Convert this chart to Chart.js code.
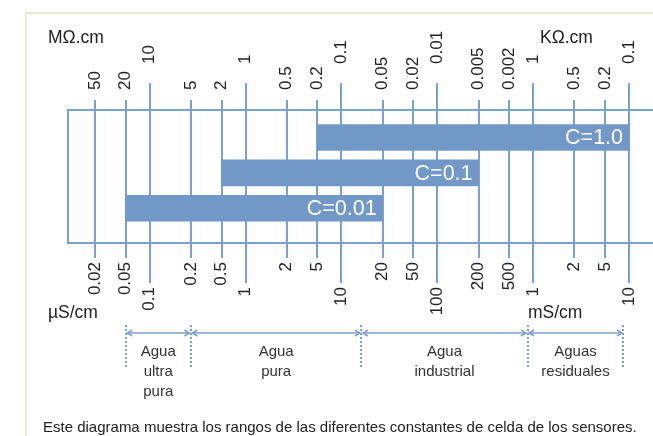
<!DOCTYPE html>
<html>
<head>
<meta charset="utf-8">
<script src="https://cdn.jsdelivr.net/npm/chart.js@4/dist/chart.umd.min.js"></script>
<style>
  html, body { margin:0; padding:0; background:#fff; width:653px; height:436px; overflow:hidden; }
  #wrap { position:relative; width:653px; height:436px; overflow:hidden; font-family:'Liberation Sans', Arial, sans-serif; color:#222; }
  #frame { position:absolute; left:25px; top:12px; width:700px; height:500px; border-top:2px solid #ebe8d5; border-left:2px solid #ebe8d5; }
  #c { position:absolute; left:0; top:0; }
  .unit { position:absolute; font-size:17.5px; line-height:20px; white-space:nowrap; }
  #caption { position:absolute; left:43px; top:418px; font-size:15px; line-height:18px; white-space:nowrap; }
</style>
</head>
<body>
<div id="wrap">
  <div id="frame"></div>
  <canvas id="c" width="700" height="436"></canvas>
  <div class="unit" style="left:48px; top:27px;">MΩ.cm</div>
  <div class="unit" style="left:540px; top:27px;">KΩ.cm</div>
  <div class="unit" style="left:48px; top:302px;">µS/cm</div>
  <div class="unit" style="left:528px; top:302px;">mS/cm</div>
  <div id="caption">Este diagrama muestra los rangos de las diferentes constantes de celda de los sensores.</div>
</div>
<script>
// ---- data ----
const conductivityMinor = [0.02, 0.05, 0.2, 0.5, 2, 5, 20, 50, 200, 500, 2000, 5000];
const conductivityMinorLabels = ['0.02','0.05','0.2','0.5','2','5','20','50','200','500','2','5'];
const conductivityMajor = [0.1, 1, 10, 100, 1000, 10000];
const conductivityMajorLabels = ['0.1','1','10','100','1','10'];
const resistivityMinorLabels = ['50','20','5','2','0.5','0.2','0.05','0.02','0.005','0.002','0.5','0.2'];
const resistivityMajorLabels = ['10','1','0.1','0.01','1','0.1'];
const cellConstants = ['C=1.0', 'C=0.1', 'C=0.01'];
const rangeLow = [5, 0.5, 0.05];
const rangeHigh = [10000, 200, 20];
const regionBounds = [0.05, 0.2, 14, 850, 8500];
const regionNames = [['Agua','ultra','pura'], ['Agua','pura'], ['Agua','industrial'], ['Aguas','residuales']];

// ---- styles ----
const BLUE = '#7ba1ce';
const BAR = '#7198c6';
const TXT = '#222222';
const FONT = "'Liberation Sans', Arial, sans-serif";
const TICK_SIZE = 17;

// decade scale with 1-2-5 anchors placed as in the printed diagram
const SPLIT = [[1, 0], [2, 0.43], [5, 0.75], [10, 1]];
function dpos(v) {
  const e = Math.floor(Math.log10(v) + 1e-9);
  const m = v / Math.pow(10, e);
  for (let i = 0; i < 3; i++) {
    const [a, fa] = SPLIT[i], [b, fb] = SPLIT[i + 1];
    if (m < b + 1e-9 || i === 2) return e + fa + (fb - fa) * Math.log(m / a) / Math.log(b / a);
  }
}
function dinv(p) {
  const e = Math.floor(p), f = p - e;
  for (let i = 0; i < 3; i++) {
    const [a, fa] = SPLIT[i], [b, fb] = SPLIT[i + 1];
    if (f <= fb || i === 2) return a * Math.pow(b / a, (f - fa) / (fb - fa)) * Math.pow(10, e);
  }
}
class SegLogScale extends Chart.LogarithmicScale {
  getPixelForValue(value) {
    if (value === undefined || value === null || value <= 0) value = this.min;
    const a = dpos(this.min), b = dpos(this.max);
    return this.getPixelForDecimal((dpos(value) - a) / (b - a));
  }
  getValueForPixel(pixel) {
    const a = dpos(this.min), b = dpos(this.max);
    return dinv(a + this.getDecimalForPixel(pixel) * (b - a));
  }
  _computeLabelArea() { return undefined; }
}
SegLogScale.id = 'seglog';
SegLogScale.defaults = Chart.LogarithmicScale.defaults;
Chart.register(SegLogScale);

function xAxis(position, values, labels, tickLen, pad, onArea) {
  return {
    type: 'seglog', axis: 'x', position,
    min: 0.0127, max: 48600,
    afterBuildTicks: s => { s.ticks = values.map(v => ({ value: v })); },
    afterFit: s => { s.height = 0; },
    grid: { display: true, drawOnChartArea: onArea, drawTicks: true, tickLength: tickLen,
            color: BLUE, lineWidth: 2, tickWidth: 2, tickColor: BLUE },
    border: { display: true, color: BLUE, width: 2 },
    ticks: { autoSkip: false, minRotation: 90, maxRotation: 90, padding: pad, color: TXT,
             labelOffset: position === 'top' ? TICK_SIZE * 1.2 : 0,
             font: { family: FONT, size: TICK_SIZE }, callback: (v, i) => labels[i] }
  };
}

const labelPlugin = {
  id: 'labels',
  afterDatasetsDraw(chart) {
    const ctx = chart.ctx;
    const meta = chart.getDatasetMeta(0);
    ctx.save();
    ctx.fillStyle = '#ffffff';
    ctx.font = '21.5px ' + FONT;
    ctx.textAlign = 'right';
    ctx.textBaseline = 'middle';
    meta.data.forEach((bar, i) => {
      const p = bar.getProps(['x', 'y', 'base'], true);
      ctx.fillText(cellConstants[i], Math.max(p.x, p.base) - 6, p.y + 1);
    });
    ctx.restore();
  },
  afterDraw(chart) {
    const ctx = chart.ctx;
    const sc = chart.scales.x;
    const xs = regionBounds.map(v => sc.getPixelForValue(v));
    ctx.save();
    ctx.strokeStyle = BLUE;
    ctx.lineWidth = 2;
    ctx.setLineDash([2, 2]);
    xs.forEach(x => {
      ctx.beginPath(); ctx.moveTo(Math.round(x), 325); ctx.lineTo(Math.round(x), 369); ctx.stroke();
    });
    ctx.setLineDash([]);
    ctx.lineWidth = 1.5;
    const ay = 333;
    for (let i = 0; i < xs.length - 1; i++) {
      const a = xs[i] + 1.5, b = xs[i + 1] - 1.5;
      ctx.beginPath(); ctx.moveTo(a, ay); ctx.lineTo(b, ay); ctx.stroke();
      ctx.beginPath();
      ctx.moveTo(a + 5, ay - 3); ctx.lineTo(a, ay); ctx.lineTo(a + 5, ay + 3);
      ctx.moveTo(b - 5, ay - 3); ctx.lineTo(b, ay); ctx.lineTo(b - 5, ay + 3);
      ctx.stroke();
    }
    ctx.fillStyle = '#333333';
    ctx.font = '15px ' + FONT;
    ctx.textAlign = 'center';
    ctx.textBaseline = 'middle';
    regionNames.forEach((lines, i) => {
      const cx = (xs[i] + xs[i + 1]) / 2;
      lines.forEach((t, j) => ctx.fillText(t, cx, 352 + j * 20));
    });
    ctx.restore();
  }
};

new Chart(document.getElementById('c'), {
  type: 'bar',
  data: {
    datasets: [{
      data: cellConstants.map((c, i) => ({ x: [rangeLow[i], rangeHigh[i]], y: i })),
      backgroundColor: BAR,
      borderWidth: 0,
      barThickness: 26,
      xAxisID: 'x', yAxisID: 'y'
    }]
  },
  options: {
    indexAxis: 'y',
    responsive: false,
    animation: false,
    events: [],
    layout: { padding: { left: 68, top: 110, right: 0, bottom: 193 } },
    plugins: { legend: { display: false }, tooltip: { enabled: false } },
    scales: {
      x: xAxis('bottom', conductivityMinor, conductivityMinorLabels, 15, 4, true),
      xMajor: xAxis('bottom', conductivityMajor, conductivityMajorLabels, 40, 4, true),
      xTop: xAxis('top', conductivityMinor, resistivityMinorLabels, 10, 10, false),
      xTopMajor: xAxis('top', conductivityMajor, resistivityMajorLabels, 27, 19, false),
      y: {
        type: 'linear', reverse: true, min: -0.51, max: 2.714,
        afterFit: s => { s.width = 0; },
        ticks: { display: false },
        grid: { display: true, drawOnChartArea: false, drawTicks: false },
        border: { display: true, color: BLUE, width: 2 }
      }
    }
  },
  plugins: [labelPlugin]
});
</script>
</body>
</html>
